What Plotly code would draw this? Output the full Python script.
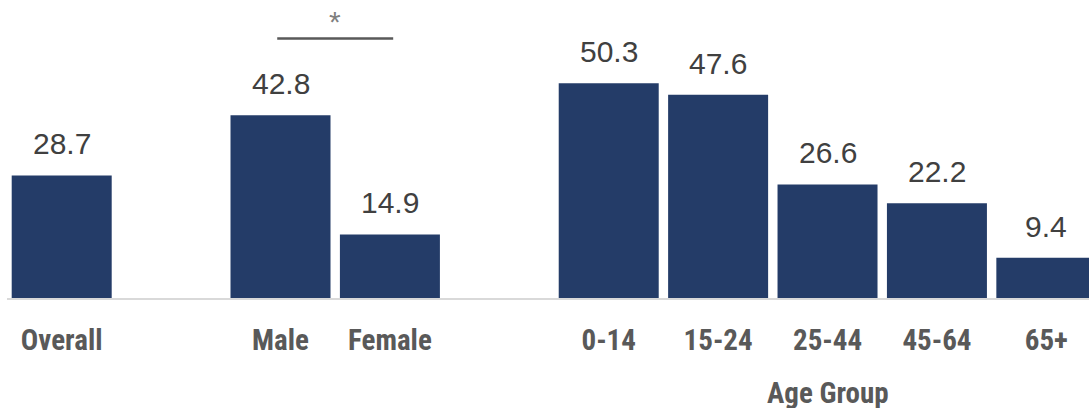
import plotly.graph_objects as go

# Data
group_overall = ["Overall"]
group_sex = ["Male", "Female"]
group_age = ["0-14", "15-24", "25-44", "45-64", "65+"]
values_overall = [28.7]
values_sex = [42.8, 14.9]
values_age = [50.3, 47.6, 26.6, 22.2, 9.4]
age_axis_title = "Age Group"
significance_mark = "*"

groups = [group_overall, group_sex, group_age]
group_values = [values_overall, values_sex, values_age]

# Build positions with one empty slot between groups
categories, values, positions = [], [], []
pos = 0
for g, vals in zip(groups, group_values):
    for c, v in zip(g, vals):
        categories.append(c)
        values.append(v)
        positions.append(pos)
        pos += 1
    pos += 1

BAR_COLOR = "#243C68"
LABEL_COLOR = "#404040"
TICK_COLOR = "#595959"
COND_FONT = "Roboto Condensed, Liberation Sans Narrow, Arial Narrow, DejaVu Sans Condensed, sans-serif"

fig = go.Figure()
fig.add_trace(go.Bar(
    x=positions, y=values,
    marker=dict(color=BAR_COLOR, line=dict(width=0)),
    hoverinfo="skip",
))

# value labels
for x, v in zip(positions, values):
    fig.add_annotation(
        x=x, y=v, xref="x", yref="y", text=f"{v:.1f}",
        showarrow=False, yanchor="bottom", yshift=13,
        font=dict(family="Liberation Sans, Arial, sans-serif", size=30, color=LABEL_COLOR),
    )

# significance bracket between Male and Female
male_x = positions[categories.index("Male")]
female_x = positions[categories.index("Female")]
bracket_y = 60.8
fig.add_shape(
    type="line", xref="x", yref="y",
    x0=male_x - 0.03, x1=female_x + 0.03, y0=bracket_y, y1=bracket_y,
    line=dict(color="#595959", width=2.5),
)
fig.add_annotation(
    x=(male_x + female_x) / 2, y=bracket_y, xref="x", yref="y",
    text=significance_mark, showarrow=False, yanchor="bottom", yshift=-2,
    font=dict(family="Liberation Sans, Arial, sans-serif", size=30, color="#7f7f7f"),
)

# Age Group title centered under middle age bar
age_positions = [positions[categories.index(c)] for c in group_age]
fig.add_annotation(
    x=sum(age_positions) / len(age_positions), y=0, xref="x", yref="y",
    text=f"<b>{age_axis_title}</b>", showarrow=False, yanchor="top", yshift=-76,
    font=dict(family=COND_FONT, size=29, color=TICK_COLOR),
)

fig.update_layout(
    width=1089, height=408,
    margin=dict(l=7, r=0, t=0, b=110),
    paper_bgcolor="white", plot_bgcolor="white",
    bargap=0.086,
    showlegend=False,
    xaxis=dict(
        range=[-0.5, 9.39],
        tickmode="array", tickvals=positions,
        ticktext=[f"<b>{c}</b>" for c in categories],
        tickfont=dict(family=COND_FONT, size=29, color=TICK_COLOR),
        showline=True, linecolor="#d9d9d9", linewidth=2,
        showgrid=False, zeroline=False, ticks="", ticklabelstandoff=15,
    ),
    yaxis=dict(
        range=[0, 69.8], visible=False, showgrid=False, zeroline=False,
    ),
)

fig.write_html("out.html")
